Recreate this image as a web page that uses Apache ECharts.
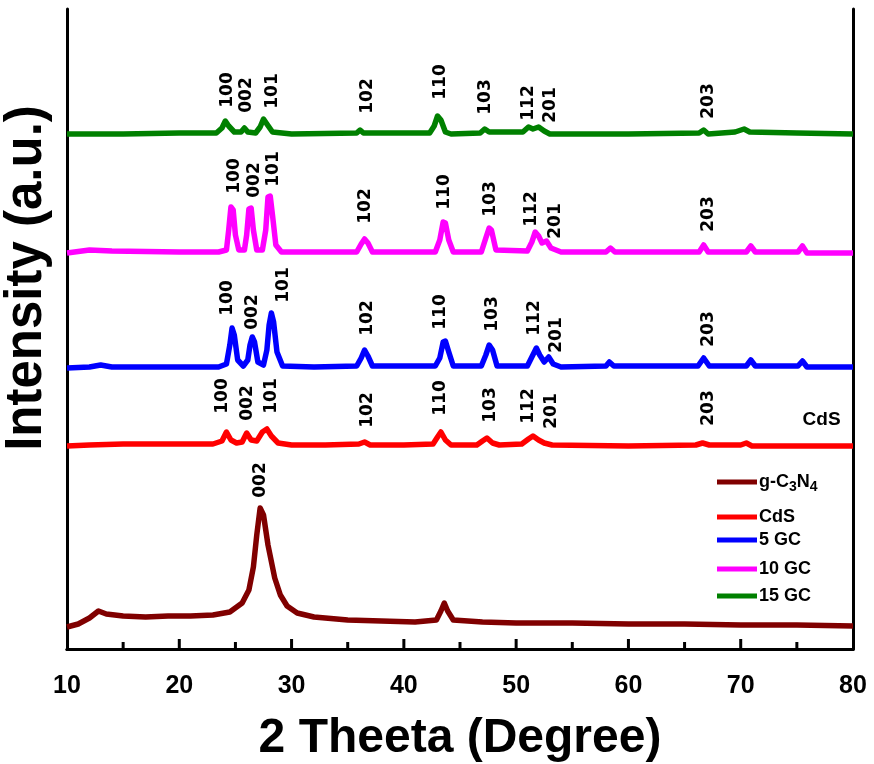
<!DOCTYPE html>
<html>
<head>
<meta charset="utf-8">
<script src="https://cdn.jsdelivr.net/npm/echarts@6/dist/echarts.min.js"></script>
<style>html,body{margin:0;padding:0;background:#fff}#c{width:874px;height:764px}</style>
</head>
<body>
<div id="c"></div>
<script>
// 2θ (degree), intensity (a.u., stacked as plotted)
const seriesNames = ['g-C3N4', 'CdS', '5 GC', '10 GC', '15 GC'];
const xTicks = [10, 20, 30, 40, 50, 60, 70, 80];
const majorTickValues = [20, 30, 40, 50, 60, 70];
const minorTickValues = [15, 25, 35, 45, 55, 65, 75];

const gC3N4 = [[10,22],[11,25],[12,31],[12.8,38],[13.5,35],[15,33],[17,32],[19,33],[21,33],[23,34],[24.5,37],[25.6,46],[26.2,59],[26.6,82],[26.9,114],[27.2,141],[27.5,134],[27.9,104],[28.5,71],[29.0,54],[29.6,43],[30.5,36],[32,32],[35,29],[38,28],[41,27],[42.9,29],[43.3,38],[43.6,46],[43.9,38],[44.4,29],[47,27],[50,26],[55,26],[60,25],[65,25],[70,24],[75,24],[80,23]];

const cdS = [[10,203],[12,204],[15,205],[20,205],[23,205],[23.8,208],[24.2,217],[24.6,209],[25.1,206],[25.6,207],[26.0,216],[26.4,209],[26.9,208],[27.4,217],[27.8,220],[28.2,213],[28.8,206],[30,204],[33,204],[36,205],[36.5,207],[37,204],[40,204],[42.6,205],[43.0,212],[43.3,217],[43.7,209],[44.2,204],[46.5,204],[47.0,208],[47.4,211],[47.9,206],[48.5,204],[50.5,205],[51.1,210],[51.5,213],[52.0,209],[52.5,206],[53.2,204],[60,203],[66,204],[66.6,206],[67.2,204],[70,204],[70.5,206],[71,203],[75,203],[80,203]];

const gc5 = [[10,281],[12,282],[13,284],[14,282],[20,282],[23.5,282],[24.2,285],[24.5,304],[24.7,321],[24.9,314],[25.2,289],[25.7,283],[26.1,289],[26.3,304],[26.5,312],[26.7,307],[27.0,287],[27.5,284],[27.8,299],[28.0,324],[28.2,336],[28.4,327],[28.7,297],[29.2,283],[32,282],[35.8,283],[36.2,291],[36.5,299],[36.8,293],[37.2,283],[42.8,283],[43.2,291],[43.5,307],[43.7,308],[44.0,297],[44.4,283],[46.9,283],[47.3,294],[47.6,304],[47.9,299],[48.3,283],[51.0,283],[51.4,292],[51.8,301],[52.1,294],[52.5,287],[52.9,292],[53.3,285],[54,282],[58,283],[58.3,287],[58.7,283],[66.2,283],[66.7,291],[67.2,283],[70.5,283],[70.9,289],[71.3,283],[75.1,283],[75.5,288],[75.9,282],[80,282]];

const gc10 = [[10,396],[12,399],[14,398],[20,397],[23.5,397],[24.2,399],[24.4,419],[24.6,442],[24.8,439],[25.0,414],[25.3,399],[25.8,399],[26.0,414],[26.2,440],[26.4,441],[26.6,419],[26.9,399],[27.4,399],[27.7,419],[27.9,452],[28.1,453],[28.3,434],[28.6,404],[29.1,397],[35.8,397],[36.2,405],[36.5,410],[36.8,406],[37.2,397],[42.8,397],[43.2,409],[43.5,427],[43.7,426],[44.0,409],[44.4,397],[46.9,397],[47.3,411],[47.6,421],[47.8,419],[48.2,399],[51.0,398],[51.4,407],[51.7,417],[52.0,413],[52.3,406],[52.7,408],[53.1,401],[54,397],[58,397],[58.4,401],[58.8,397],[66.3,397],[66.7,404],[67.1,397],[70.5,397],[70.9,403],[71.3,397],[75.1,397],[75.5,403],[75.9,396],[80,396]];

const gc15 = [[10,515],[15,515],[20,516],[23.3,516],[23.8,521],[24.1,528],[24.4,523],[24.9,517],[25.5,517],[25.8,521],[26.1,517],[26.8,516],[27.2,522],[27.5,530],[27.8,525],[28.3,517],[30,515],[35.8,516],[36.1,519],[36.4,516],[42.3,516],[42.7,523],[43.0,533],[43.3,529],[43.7,517],[44.2,515],[46.8,516],[47.2,520],[47.6,517],[50.6,517],[51.1,522],[51.5,520],[52.0,522],[52.5,518],[53,515],[60,515],[66.3,516],[66.7,519],[67.1,515],[69.5,517],[70.3,520],[70.8,517],[75,516],[80,515]];

// peak (hkl) annotations: [text, 2θ, intensity]
const labelsGC3N4 = [['002',27.2,169]];
const labelsCdS = [['100',23.9,253],['002',26.1,246],['101',28.25,253],['102',36.8,239],['110',43.3,251],['103',47.7,244],['112',51.1,243],['201',53.2,238],['203',67.1,241]];
const labelsGC5 = [['100',24.3,351],['002',26.5,337],['101',29.3,364],['102',36.8,331],['110',43.3,337],['103',47.9,335],['112',51.6,331],['201',53.6,314],['203',67.1,320]];
const labelsGC10 = [['100',24.9,473],['002',26.7,469],['101',28.4,480],['102',36.6,443],['110',43.6,457],['103',47.75,450],['112',51.4,440],['201',53.5,428],['203',67.1,435]];
const labelsGC15 = [['100',24.3,559],['002',25.95,554],['101',28.3,558],['102',36.8,553],['110',43.3,567],['103',47.3,552],['112',51.1,546],['201',53.1,544],['203',67.1,548]];
const sampleTag = ['CdS', 77.2, 229];

const colors = ['#800000', '#ff0000', '#0000ff', '#ff00ff', '#008000'];
const narrow = "'Liberation Sans Narrow', 'Arial Narrow', 'Liberation Sans', Arial, sans-serif";

function marks(list, extra) {
  const d = list.map(([t, x, y]) => ({ name: t, coord: [x, y] }));
  if (extra) d.push(extra);
  return {
    symbol: 'rect', symbolSize: 1, silent: true, animation: false,
    itemStyle: { color: 'rgba(0,0,0,0)' },
    label: { show: true, position: 'inside', rotate: 90, formatter: '{b}',
      color: '#000', fontFamily: 'DejaVu Sans', fontWeight: 'bold', fontSize: 17 },
    data: d
  };
}

const datas = [gC3N4, cdS, gc5, gc10, gc15];
const labelSets = [labelsGC3N4, labelsCdS, labelsGC5, labelsGC10, labelsGC15];
const series = datas.map((d, i) => ({
  name: seriesNames[i], type: 'line', data: d, showSymbol: false, symbol: 'none',
  lineStyle: { color: colors[i], width: 5.5, join: 'round' }, itemStyle: { color: colors[i] },
  z: 2 + i,
  markPoint: marks(labelSets[i], i === 1 ? {
    name: sampleTag[0], coord: [sampleTag[1], sampleTag[2]],
    label: { rotate: 0, fontFamily: 'Liberation Sans', fontSize: 19 }
  } : null)
}));

// inward tick marks on the bottom frame, placed through the x scale
function tickSeries(values, len) {
  return {
    type: 'custom', silent: true, z: 20, clip: false,
    data: values.map(v => [v, 0]),
    encode: { x: 0, y: 1 },
    renderItem: (params, api) => {
      const p = api.coord([api.value(0), 0]);
      return { type: 'line', shape: { x1: p[0], y1: p[1], x2: p[0], y2: p[1] - len },
        style: { stroke: '#000', lineWidth: 3 } };
    }
  };
}
series.push(tickSeries(majorTickValues, 10));
series.push(tickSeries(minorTickValues, 7));

const legendTops = [473, 508, 531, 560, 587];
const legends = seriesNames.map((n, i) => ({
  data: [n], left: 717, top: legendTops[i], orient: 'vertical',
  icon: 'rect', itemWidth: 40, itemHeight: 5, itemGap: 4, padding: 0,
  selectedMode: false,
  formatter: nm => nm === 'g-C3N4' ? 'g-C{s|3}N{s|4}' : nm,
  textStyle: { color: '#000', fontFamily: narrow, fontWeight: 'bold', fontSize: 18, padding: [0,0,0,-3],
    rich: { s: { fontFamily: narrow, fontWeight: 'bold', fontSize: 14, padding: [10, 0, 0, 0], color: '#000' } } }
}));

const chart = echarts.init(document.getElementById('c'));
chart.setOption({
  animation: false,
  backgroundColor: '#fff',
  grid: { left: 67, right: 21, top: 9, bottom: 115, outerBoundsMode: 'none' },
  legend: legends,
  xAxis: [{
    type: 'value', min: 10, max: 80, interval: 10, position: 'bottom',
    name: '2 Theeta (Degree)', nameLocation: 'middle', nameGap: 66,
    nameTextStyle: { fontFamily: narrow, fontWeight: 'bold', fontSize: 48, color: '#000' },
    axisLine: { show: true, lineStyle: { color: '#000', width: 3 } },
    axisTick: { show: false }, minorTick: { show: false },
    splitLine: { show: false },
    axisLabel: { margin: 25, fontFamily: narrow, fontWeight: 'bold', fontSize: 25, color: '#000',
      formatter: v => xTicks.includes(v) ? String(v) : '' }
  }, {
    type: 'value', min: 10, max: 80, interval: 10, position: 'top',
    axisLine: { show: true, lineStyle: { color: '#000', width: 3 } },
    axisTick: { show: false }, axisLabel: { show: false }, splitLine: { show: false }
  }],
  yAxis: [{
    type: 'value', min: 0, max: 640, position: 'left',
    name: 'Intensity (a.u.)', nameLocation: 'middle', nameGap: 15, nameRotate: 90,
    nameTextStyle: { fontFamily: 'Liberation Sans', fontWeight: 'bold', fontSize: 51, color: '#000', padding: [0, 0, 0, 102] },
    axisLine: { show: true, lineStyle: { color: '#000', width: 3 } },
    axisTick: { show: false }, axisLabel: { show: false }, splitLine: { show: false }
  }, {
    type: 'value', min: 0, max: 640, position: 'right',
    axisLine: { show: true, lineStyle: { color: '#000', width: 3 } },
    axisTick: { show: false }, axisLabel: { show: false }, splitLine: { show: false }
  }],
  series: series
});
</script>
</body>
</html>
